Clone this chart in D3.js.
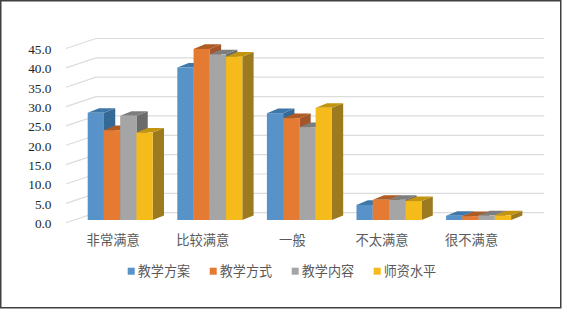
<!DOCTYPE html>
<html>
<head>
<meta charset="utf-8">
<script src="https://cdn.jsdelivr.net/npm/d3@7"></script>
<style>
  html, body { margin: 0; padding: 0; background: #fff; }
  svg { display: block; }
</style>
</head>
<body>
<svg class="graph" width="562" height="309"></svg>
<script>
const categories = ["非常满意", "比较满意", "一般", "不太满意", "很不满意"];
const seriesNames = ["教学方案", "教学方式", "教学内容", "师资水平"];
const planValues = [27.7, 39.4, 27.6, 3.9, 1.1];
const methodValues = [23.2, 44.2, 26.3, 5.2, 1.0];
const contentValues = [26.9, 42.8, 24.0, 5.2, 1.2];
const teacherValues = [22.6, 42.2, 29.0, 4.9, 1.2];
const yTicks = [0, 5, 10, 15, 20, 25, 30, 35, 40, 45];

const seriesValues = [planValues, methodValues, contentValues, teacherValues];
const frontColors = ["#5793c9", "#e57a32", "#a5a5a5", "#f4bb1a"];
const topColors = ["#3f78a8", "#ad5c26", "#7d7d7d", "#c29410"];
const sideColors = ["#366a96", "#a4562a", "#6b6b6b", "#9c7a20"];

const svg = d3.select(".graph");

// depth of the chart floor, and of one bar
const wallDx = 30, wallDy = 10;
const barDx = 11.3, barDy = 4.6;

//Scales
const yWall = d3.scaleLinear().domain([0, 45]).range([212.7, 38.5]);
const yBar = d3.scaleLinear().domain([0, 45]).range([220, 45.8]);
const xGroup = d3.scaleBand().domain(categories).range([75.4, 523.4]).paddingInner(0.2746).paddingOuter(0.1373);
const xBar = d3.scaleBand().domain(seriesNames).range([0, xGroup.bandwidth()]);

//Frame
svg.append("rect")
  .attr("x", 0.75).attr("y", 0.75)
  .attr("width", 560).attr("height", 307)
  .attr("fill", "#fff")
  .attr("stroke", "#404040")
  .attr("stroke-width", 1.5);

//Gridlines on the wall and the floor
svg.append("g")
  .selectAll("path")
  .data(yTicks)
  .enter()
  .append("path")
  .attr("d", (d) => `M66,${yWall(d) + wallDy}L96,${yWall(d)}L544.3,${yWall(d)}`)
  .attr("fill", "none")
  .attr("stroke", "#dcdcdc")
  .attr("stroke-width", 1.2);

//Value axis labels
const yAxis = d3.axisLeft(yWall)
  .tickValues(yTicks)
  .tickSize(0)
  .tickPadding(0)
  .tickFormat(d3.format(".1f"));
const yAxisGroup = svg.append("g")
  .attr("transform", `translate(51.5, ${wallDy + 0.6})`)
  .call(yAxis);
yAxisGroup.select(".domain").remove();
yAxisGroup.selectAll("text")
  .attr("font-family", "'Liberation Serif'")
  .attr("font-size", 13.3)
  .attr("fill", "#262626");

//Bars, painted left to right so the later fronts cover earlier sides
const groups = svg.append("g")
  .selectAll("g")
  .data(categories)
  .enter()
  .append("g")
  .attr("transform", (d) => `translate(${xGroup(d)}, 0)`);

const bars = groups.selectAll("g")
  .data((d, i) => seriesNames.map((name, s) => ({ name, s, value: seriesValues[s][i] })))
  .enter()
  .append("g");

const bw = xBar.bandwidth();
bars.append("path")
  .attr("d", (d) => {
    const x = xBar(d.name), t = yBar(d.value), b = yBar(0);
    return `M${x + bw},${b}L${x + bw + barDx},${b - barDy}L${x + bw + barDx},${t - barDy}L${x + bw},${t}Z`;
  })
  .attr("fill", (d) => sideColors[d.s]);
bars.append("path")
  .attr("d", (d) => {
    const x = xBar(d.name), t = yBar(d.value);
    return `M${x},${t}L${x + barDx},${t - barDy}L${x + bw + barDx},${t - barDy}L${x + bw},${t}Z`;
  })
  .attr("fill", (d) => topColors[d.s]);
bars.append("rect")
  .attr("x", (d) => xBar(d.name))
  .attr("y", (d) => yBar(d.value))
  .attr("width", bw)
  .attr("height", (d) => yBar(0) - yBar(d.value))
  .attr("fill", (d) => frontColors[d.s]);

//Category labels
svg.append("g")
  .selectAll("text")
  .data(categories)
  .enter()
  .append("text")
  .text((d) => d)
  .attr("x", (d) => xGroup(d) + xGroup.bandwidth() / 2 - 7)
  .attr("y", 244.5)
  .attr("text-anchor", "middle")
  .attr("font-family", "'Noto Sans CJK SC'")
  .attr("font-size", 13.3)
  .attr("fill", "#595959");

//Legend
const legendX = d3.scalePoint().domain(seriesNames).range([127.7, 373.7]);
const legendItems = svg.append("g")
  .selectAll("g")
  .data(seriesNames)
  .enter()
  .append("g")
  .attr("transform", (d) => `translate(${legendX(d)}, 267.7)`);
legendItems.append("rect")
  .attr("width", 7)
  .attr("height", 7)
  .attr("fill", (d, i) => frontColors[i]);
legendItems.append("text")
  .text((d) => d)
  .attr("x", 10)
  .attr("y", 8.2)
  .attr("font-family", "'Noto Sans CJK SC'")
  .attr("font-size", 13.1)
  .attr("fill", "#595959");
</script>
</body>
</html>
